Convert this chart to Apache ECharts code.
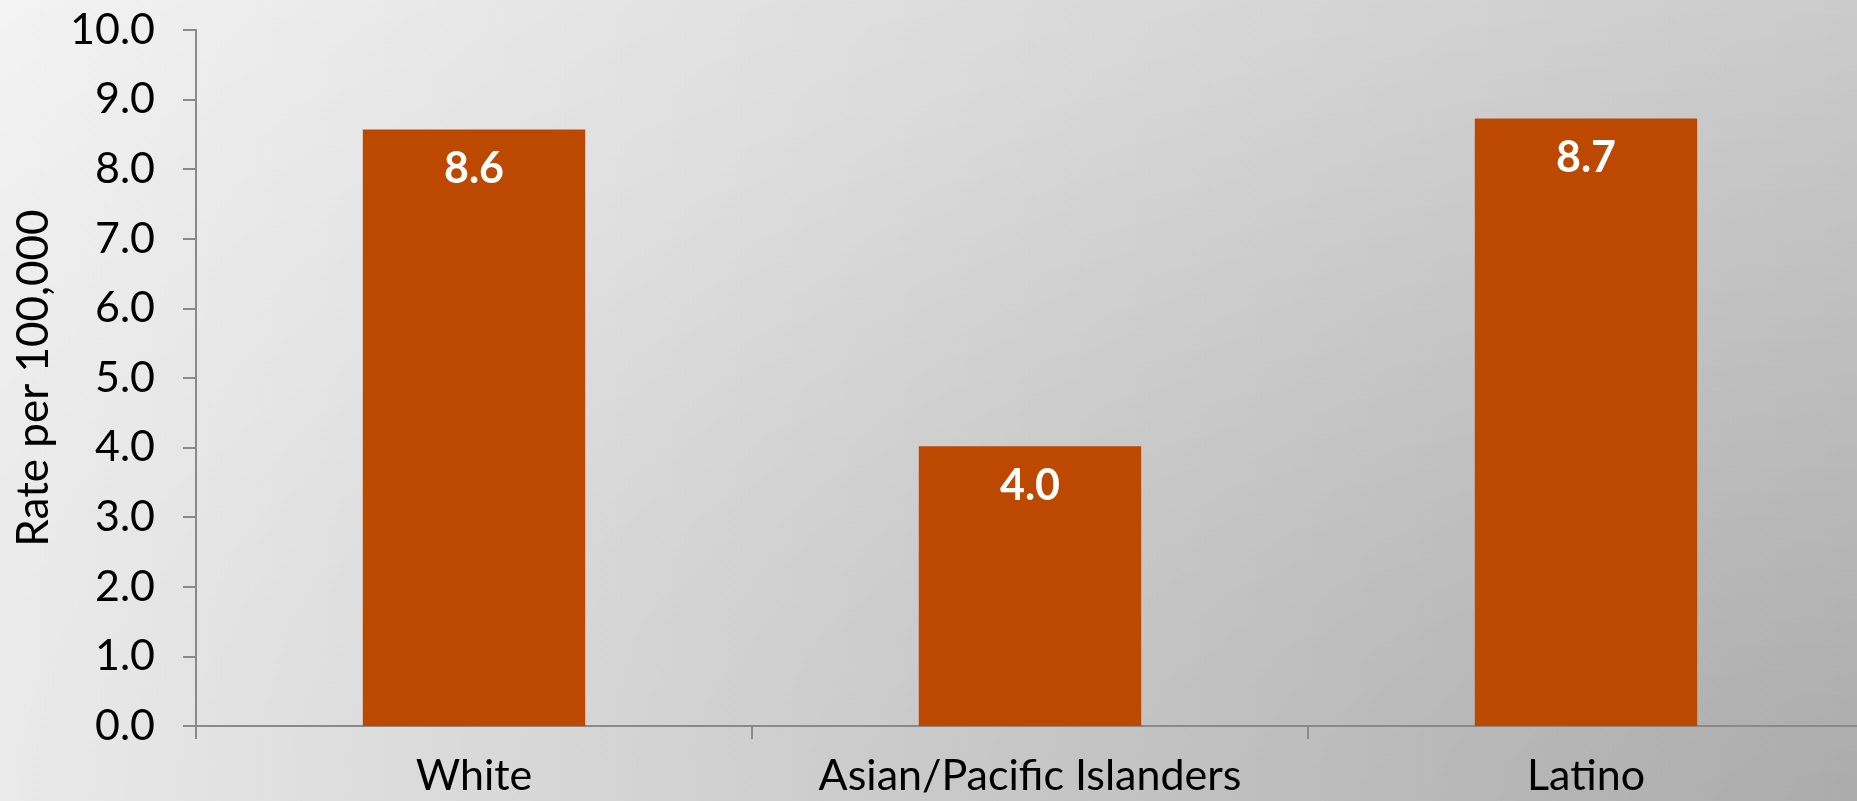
<!DOCTYPE html>
<html><head><meta charset="utf-8">
<script src="https://cdn.jsdelivr.net/npm/echarts@6/dist/echarts.min.js"></script>
<style>
html,body{margin:0;padding:0;overflow:hidden;}
#c{width:1857px;height:801px;
background:
 radial-gradient(ellipse farthest-corner at 100% 100%, rgba(0,0,0,0.19) 0%, rgba(0,0,0,0.04) 70%, rgba(0,0,0,0) 100%),
 linear-gradient(to right, #f3f3f3, #d3d3d3);}
</style></head>
<body><div id="c"></div>
<script>
const categories = ['White', 'Asian/Pacific Islanders', 'Latino'];
const rates = [8.57, 4.02, 8.73];
const yMin = 0, yMax = 10, yStep = 1;
const yTitle = 'Rate per 100,000';

const FONT = 'Lato';
const chart = echarts.init(document.getElementById('c'), null, {renderer: 'canvas'});
chart.setOption({
  backgroundColor: 'transparent',
  animation: false,
  grid: {left: 196, top: 30, height: 696, width: 1668, containLabel: false, outerBoundsMode: 'none'},
  xAxis: {
    type: 'category',
    data: categories,
    axisLine: {show: true, lineStyle: {color: '#8a8a8a', width: 2}},
    axisTick: {show: true, length: 13, alignWithLabel: false, lineStyle: {color: '#8a8a8a', width: 2}},
    axisLabel: {color: '#000', fontFamily: FONT, fontSize: 43, margin: 29, interval: 0}
  },
  yAxis: {
    type: 'value',
    min: yMin, max: yMax, interval: yStep,
    name: yTitle,
    nameLocation: 'middle',
    nameGap: 140,
    nameRotate: 90,
    nameTextStyle: {color: '#000', fontFamily: FONT, fontSize: 44},
    axisLine: {show: true, lineStyle: {color: '#8a8a8a', width: 2}},
    axisTick: {show: true, length: 13, lineStyle: {color: '#8a8a8a', width: 2}},
    axisLabel: {color: '#000', fontFamily: FONT, fontSize: 43, margin: 41, formatter: v => v.toFixed(1)},
    splitLine: {show: false}
  },
  series: [{
    type: 'bar',
    data: rates,
    barWidth: '40%',
    itemStyle: {color: '#bd4900'},
    label: {
      show: true, position: 'insideTop', distance: 18,
      color: '#fff', fontFamily: FONT, fontWeight: 'bold', fontSize: 43,
      formatter: p => p.value.toFixed(1)
    }
  }]
});
</script>
</body></html>
